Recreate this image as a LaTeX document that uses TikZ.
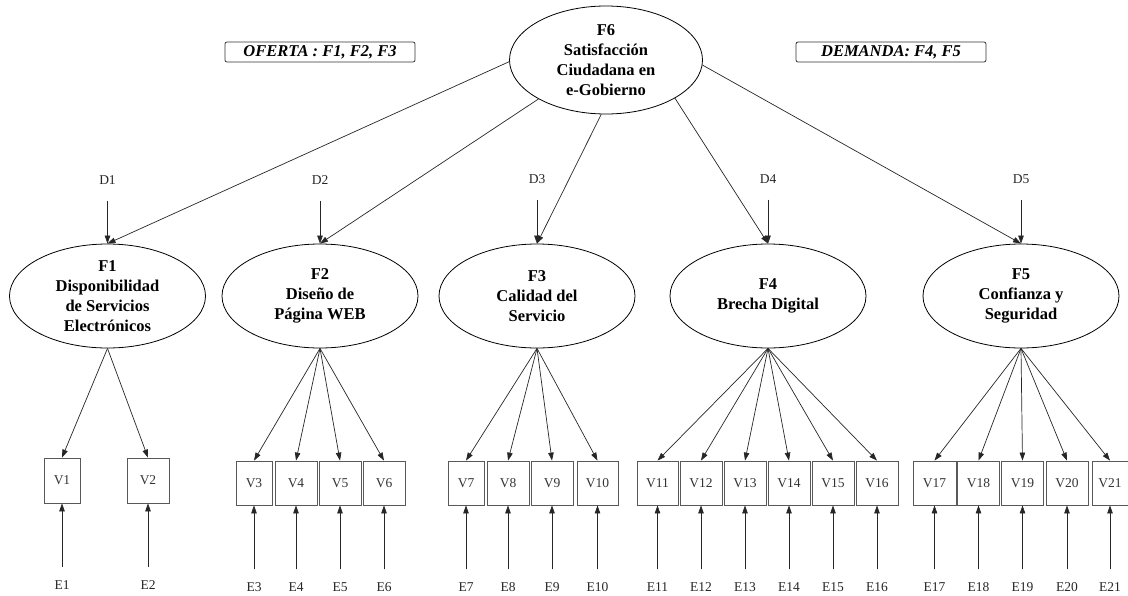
\documentclass[tikz,border=0pt]{standalone}
\usepackage{fontspec}
\setmainfont{Liberation Serif}
\usetikzlibrary{shapes.geometric,arrows.meta}
\begin{document}
\begin{tikzpicture}[x=1pt,y=1pt,
  lat/.style={ellipse,draw=black,line width=0.8pt,minimum width=196pt,minimum height=104pt,inner sep=0pt,align=center,font=\fontsize{16.5}{20}\selectfont\bfseries},
  obs/.style={rectangle,draw=black!65,line width=0.8pt,minimum width=42pt,minimum height=44pt,inner sep=0pt,font=\fontsize{13.5}{16}\selectfont,text=black!80},
  lbl/.style={inner sep=0pt,font=\fontsize{13.5}{16}\selectfont,text=black!85},
  arr/.style={draw=black!85,line width=0.7pt,-{Triangle[length=8pt,width=5.5pt]}},
  tag/.style={draw=black!80,rounded corners=2pt,line width=0.8pt,minimum width=190pt,minimum height=20pt,inner sep=0pt,font=\fontsize{16.5}{20}\selectfont\bfseries\itshape}
]
\useasboundingbox (0,0) rectangle (1128,-595);

% tags
\node[tag] (of) at (320,-52) {OFERTA : F1, F2, F3};
\node[tag] (de) at (891,-52) {DEMANDA: F4, F5};

% latent
\node[lat,minimum width=193pt,minimum height=108pt] (F6) at (606,-60) {F6\\Satisfacción\\Ciudadana en\\e-Gobierno};
\node[lat] (F1) at (107.5,-296) {F1\\Disponibilidad\\de Servicios\\Electrónicos};
\node[lat] (F2) at (320,-296) {F2\\Diseño de\\Página WEB};
\node[lat] (F3) at (537,-296) {F3\\Calidad del\\Servicio};
\node[lat] (F4) at (768,-296) {F4\\Brecha Digital};
\node[lat] (F5) at (1021,-296) {F5\\Confianza y\\Seguridad};

% disturbances
\node[lbl] (D1) at (107.5,-180) {D1};
\node[lbl] (D2) at (320,-180) {D2};
\node[lbl] (D3) at (537,-179) {D3};
\node[lbl] (D4) at (768,-179) {D4};
\node[lbl] (D5) at (1021,-179) {D5};

% observed
\node[obs,minimum width=36pt,minimum height=45pt] (V1) at (62,-480.5) {V1};
\node[obs,minimum height=45pt] (V2) at (148,-480.5) {V2};
\node[obs,minimum width=36pt] (V3) at (254,-483) {V3};
\node[obs] (V4) at (296,-483) {V4};
\node[obs] (V5) at (340,-483) {V5};
\node[obs] (V6) at (384,-483) {V6};
\node[obs,minimum width=36pt] (V7) at (466,-483) {V7};
\node[obs] (V8) at (508,-483) {V8};
\node[obs] (V9) at (552,-483) {V9};
\node[obs,minimum width=41pt] (V10) at (597.5,-483) {V10};
\node[obs,minimum width=41pt] (V11) at (657.5,-483) {V11};
\node[obs] (V12) at (701,-483) {V12};
\node[obs] (V13) at (745,-483) {V13};
\node[obs] (V14) at (789,-483) {V14};
\node[obs] (V15) at (833,-483) {V15};
\node[obs] (V16) at (877,-483) {V16};
\node[obs,minimum width=43pt] (V17) at (934.5,-483) {V17};
\node[obs] (V18) at (978.5,-483) {V18};
\node[obs] (V19) at (1022.5,-483) {V19};
\node[obs] (V20) at (1067,-483) {V20};
\node[obs,minimum width=36pt] (V21) at (1110,-483) {V21};

% errors
\foreach \i/\x in {1/62,2/148}{\node[lbl] (E\i) at (\x,-585) {E\i};}
\foreach \i/\x in {3/254,4/296,5/340,6/384,7/466,8/508,9/552,10/597.5,11/657.5,12/701,13/745,14/789,15/833,16/877,17/934.5,18/978.5,19/1022.5,20/1067,21/1110}{\node[lbl] (E\i) at (\x,-587) {E\i};}

% structural paths
\draw[arr] (F6.181) -- (F1.north);
\draw[arr] (F6.210) -- (F2.north);
\draw[arr] (F6.265) -- (F3.north);
\draw[arr] (F6.331) -- (F4.north);
\draw[arr] (F6.357) -- (F5.north);

\foreach \k in {1,...,5}{\draw[arr,shorten <=16pt] (D\k.south) -- (F\k.north);}

% measurement paths
\foreach \v in {1,2}{\draw[arr] (F1.south) -- (V\v.north);}
\foreach \v in {3,...,6}{\draw[arr] (F2.south) -- (V\v.north);}
\foreach \v in {7,...,10}{\draw[arr] (F3.south) -- (V\v.north);}
\foreach \v in {11,...,16}{\draw[arr] (F4.south) -- (V\v.north);}
\foreach \v in {17,...,21}{\draw[arr] (F5.south) -- (V\v.north);}

\foreach \v in {1,...,21}{\draw[arr,shorten <=13pt] (E\v.north) -- (V\v.south);}
\end{tikzpicture}
\end{document}
